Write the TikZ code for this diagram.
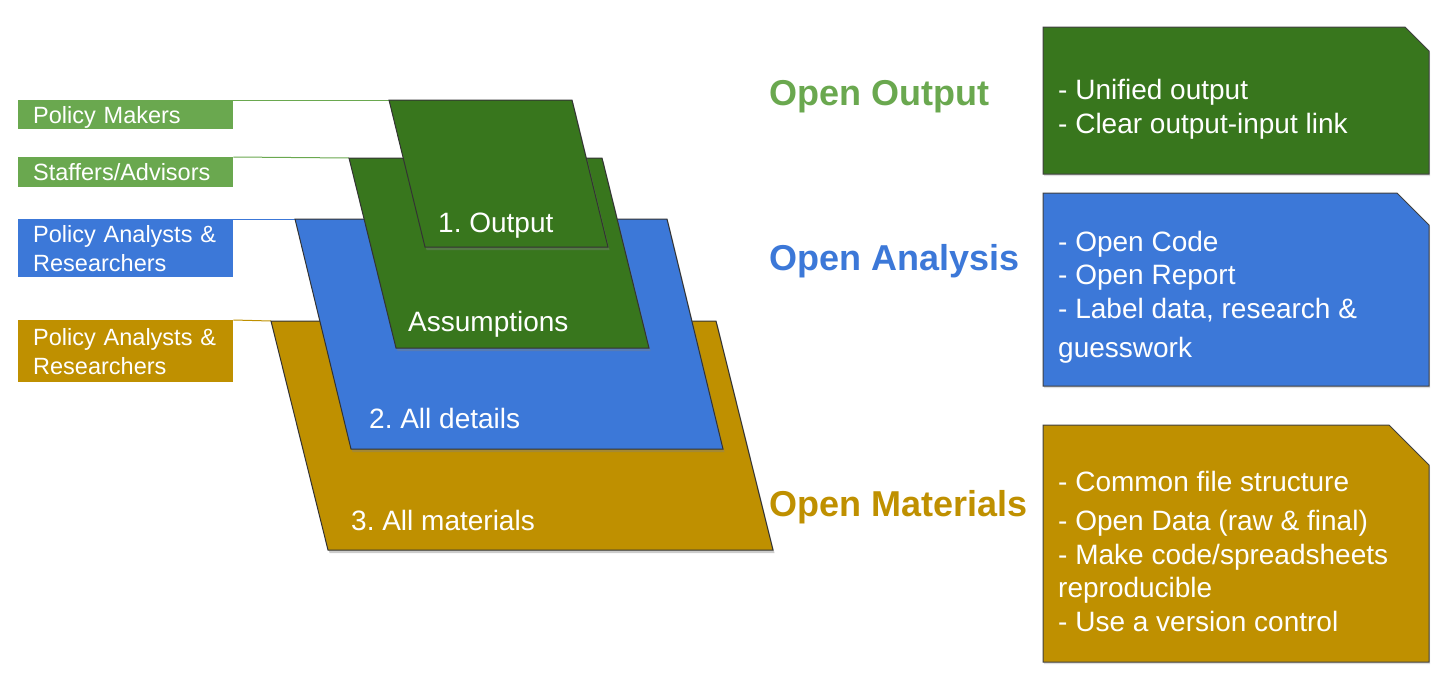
\documentclass[tikz,border=0pt]{standalone}
\usepackage{fontspec}
\setmainfont{Liberation Sans}
\usepackage{xcolor}
\definecolor{ColLG}{RGB}{106,168,79}
\definecolor{ColDG}{RGB}{56,118,29}
\definecolor{ColB}{RGB}{60,120,216}
\definecolor{ColG}{RGB}{191,144,0}
\usepackage{tikz}
\usetikzlibrary{shadows}
\frenchspacing
\tikzstyle{Layer}=[draw=black!80,line width=1pt,line join=miter,
drop shadow={shadow xshift=1.5pt,shadow yshift=-3pt,opacity=.4}]
\tikzstyle{LayerText}=[anchor=base west,inner sep=0pt,text=white,
font=\fontsize{28}{33.5}\selectfont]
\tikzstyle{Tag}=[anchor=north west,inner xsep=15pt,inner ysep=0pt,
text width=185pt,align=left,text=white,font=\fontsize{23.5}{29}\selectfont]
\tikzstyle{TagOne}=[Tag,text height=22pt,text depth=5pt]
\tikzstyle{Link}=[line width=1pt]
\tikzstyle{Title}=[anchor=base west,inner sep=0pt,
font=\fontsize{36}{40}\selectfont\bfseries]
\tikzstyle{Box}=[draw=black!75,line width=1pt,
drop shadow={shadow xshift=1pt,shadow yshift=-2pt,opacity=.25}]
\tikzstyle{BoxText}=[anchor=base west,inner sep=0pt,align=left,text=white,
font=\fontsize{28}{33.5}\selectfont]

\begin{document}
\begin{tikzpicture}[x=1pt,y=-1pt]
        \useasboundingbox (0,0) rectangle (1439,680);
        % corners of the layers
        \coordinate(g1)at(271,321);
        \coordinate(g2)at(716,321);
        \coordinate(g3)at(773,550);
        \coordinate(g4)at(328,550);
        \coordinate(b1)at(295,219);
        \coordinate(b2)at(667,219);
        \coordinate(b3)at(723,449);
        \coordinate(b4)at(351,449);
        \coordinate(a1)at(349,158);
        \coordinate(a2)at(602,158);
        \coordinate(a3)at(649,348);
        \coordinate(a4)at(396,348);
        \coordinate(o1)at(389,100);
        \coordinate(o2)at(572,100);
        \coordinate(o3)at(608,247);
        \coordinate(o4)at(425,247);
        % audiences
        \node[TagOne,fill=ColLG,minimum height=29pt](pm)at(18,100){Policy Makers};
        \node[TagOne,fill=ColLG,minimum height=30pt](sa)at(18,157){Staffers/Advisors};
        \node[Tag,fill=ColB,minimum height=58pt](pab)at(18,219){Policy Analysts \&\\Researchers};
        \node[Tag,fill=ColG,minimum height=62pt](pag)at(18,320){Policy Analysts \&\\Researchers};
        \draw[Link,draw=ColLG](pm.north east)--(o1);
        \draw[Link,draw=ColLG](sa.north east)--(a1);
        \draw[Link,draw=ColB](pab.north east)--(b1);
        \draw[Link,draw=ColG](pag.north east)--(g1);
        % layers
        \draw[Layer,fill=ColG](g1)--(g2)--(g3)--(g4)--cycle;
        \draw[Layer,fill=ColB](b1)--(b2)--(b3)--(b4)--cycle;
        \draw[Layer,fill=ColDG](a1)--(a2)--(a3)--(a4)--cycle;
        \draw[Layer,fill=ColDG](o1)--(o2)--(o3)--(o4)--cycle;
        \node[LayerText](lo)at(438,232){1. Output};
        \node[LayerText](la)at(408,331){Assumptions};
        \node[LayerText](ld)at(369,428){2. All details};
        \node[LayerText](lm)at(351,530){3. All materials};
        % titles
        \node[Title,text=ColLG](to)at(769,105){Open Output};
        \node[Title,text=ColB](ta)at(769,270){Open Analysis};
        \node[Title,text=ColG](tm)at(769,516){Open Materials};
        % boxes
        \draw[Box,fill=ColDG](1043,27)--(1405,27)--(1429,51)--(1429,174)--(1043,174)--cycle;
        \draw[Box,fill=ColB](1043,193)--(1397,193)--(1429,225)--(1429,386)--(1043,386)--cycle;
        \draw[Box,fill=ColG](1043,425)--(1389,425)--(1429,465)--(1429,662)--(1043,662)--cycle;
        \node[BoxText](xo)at(1058,133){- Unified output\\- Clear output-input link};
        \node[BoxText](xa)at(1058,357){- Open Code\\- Open Report\\- Label data, research \&\\[5.5pt]guesswork};
        \node[BoxText](xm)at(1058,631){- Common file structure\\[5.5pt]- Open Data (raw \& final)\\- Make code/spreadsheets\\reproducible\\- Use a version control};
    \end{tikzpicture}
\end{document}
